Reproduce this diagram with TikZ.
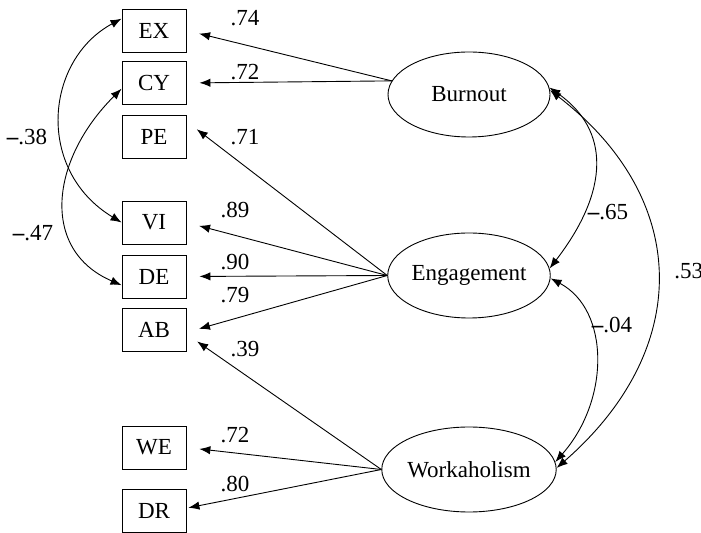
\documentclass[tikz,border=0pt]{standalone}
\usepackage{fontspec}
\setmainfont{Liberation Serif}
\usepackage{tikz}
\usetikzlibrary{shapes.geometric,arrows.meta}

\begin{document}
\begin{tikzpicture}[x=0.5pt,y=-0.5pt,
  font=\fontsize{11.5}{13}\selectfont,
  obs/.style={draw,line width=0.45pt,rectangle,minimum width=32pt,minimum height=21.5pt,inner sep=0pt},
  lat/.style={draw,line width=0.45pt,ellipse,minimum width=81pt,minimum height=42.5pt,inner sep=0pt},
  load/.style={line width=0.45pt,-{Latex[length=5.5pt,width=4.2pt]},shorten >=6.5pt},
  cov/.style={line width=0.45pt,{Latex[length=5.5pt,width=4.2pt]}-{Latex[length=5.5pt,width=4.2pt]}}]
\useasboundingbox (0,0) rectangle (701,533);

% observed
\node[obs] (EX) at (154,30.5) {EX};
\node[obs] (CY) at (154,83) {CY};
\node[obs] (PE) at (154,136.5) {PE};
\node[obs] (VI) at (154,222.5) {VI};
\node[obs] (DE) at (154,276.5) {DE};
\node[obs] (AB) at (154,329.5) {AB};
\node[obs] (WE) at (154,447.5) {WE};
\node[obs] (DR) at (154,511) {DR};

% latent
\node[lat] (burn) at (469,94.5) {Burnout};
\node[lat] (eng) at (469,275.5) {Engagement};
\node[lat] (work) at (469,469.5) {Workaholism};

% loadings
\draw[load] (burn.170) -- (EX.east);
\draw[load] (burn.170) -- (CY.east);
\draw[load] (eng.west) -- (PE.25);
\draw[load] (eng.west) -- (VI.east);
\draw[load] (eng.west) -- (DE.east);
\draw[load] (eng.west) -- (AB.355);
\draw[load] (work.west) -- (AB.352);
\draw[load] (work.west) -- (WE.east);
\draw[load,shorten >=1pt] (work.west) -- (DR.5);

\node (l74) at (245,18) {.74};
\node (l72) at (245,72) {.72};
\node (l71) at (245,137) {.71};
\node (l89) at (235,210) {.89};
\node (l90) at (235,262) {.90};
\node (l79) at (235,295) {.79};
\node (l39) at (245,349) {.39};
\node (l72b) at (235,435) {.72};
\node (l80) at (235,484) {.80};

% error covariances
\draw[cov] (EX.160) .. controls (45,60) and (35,170) .. (VI.west);
\draw[cov] (CY.190) .. controls (50,160) and (40,250) .. (DE.195);
\node (c38) at (27,137) {\textbf{--}.38};
\node (c47) at (33,233) {\textbf{--}.47};

% factor correlations
\draw[cov] (burn.5) .. controls (610,130) and (610,190) .. (eng.5);
\draw[cov] (eng.358) .. controls (610,310) and (610,400) .. (work.5);
\draw[cov] (burn.3) .. controls (692,200) and (692,350) .. (work.1);
\node (c65) at (608,212) {\textbf{--}.65};
\node (c04) at (612,325) {\textbf{--}.04};
\node[anchor=west,inner sep=0pt] (c53) at (674,271) {.53};

\end{tikzpicture}
\end{document}
